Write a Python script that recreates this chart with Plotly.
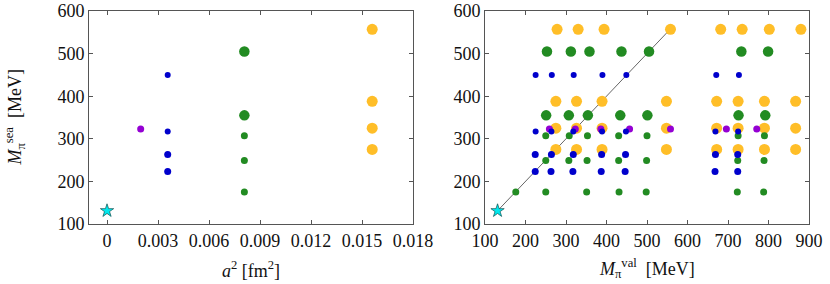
import plotly.graph_objects as go

# ---------------- data ----------------
# left panel: a^2 [fm^2] vs M_pi^sea [MeV]
a2_purple = 0.00198
sea_purple = [323]
a2_blue = 0.00357
sea_blue = [450, 317, 263, 223]
a2_green = 0.00808
sea_green_big = [505, 355]
sea_green_small = [307, 249, 175]
a2_orange = 0.0156
sea_orange = [557, 388, 325, 275]
star_a2 = [0.0]
star_sea = [131]

# right panel: M_pi^val vs M_pi^sea, valence masses per sea row
blue_rows_sea = [450, 317, 263, 223]
blue_rows_val = [
    [225, 265, 319, 390, 449, 671, 727],
    [225, 264, 318, 389, 448, 669, 725],
    [224, 264, 318, 388, 447, 669, 724],
    [224, 263, 317, 387, 446, 668, 724],
]
green_big_sea = [505, 355]
green_big_val = [
    [253, 312, 358, 437, 505, 733, 799],
    [251, 307, 354, 434, 501, 726, 792],
]
green_small_sea = [307, 249, 175]
green_small_val = [
    [250, 308, 353, 430, 500, 725, 790],
    [250, 307, 352, 430, 499, 724, 789],
    [176, 250, 351, 431, 498, 723, 788],
]
orange_sea = [557, 388, 325, 275]
orange_val = [
    [278, 330, 394, 558, 682, 735, 802, 880],
    [275, 326, 389, 548, 672, 725, 790, 867],
    [275, 326, 389, 548, 672, 725, 790, 867],
    [275, 326, 389, 548, 672, 725, 790, 867],
]
purple_sea = [323]
purple_val = [[259, 323, 386, 457, 558, 696, 771]]
star_val = [131]
diag_val = [131, 557]
diag_sea = [131, 557]

left_xticks = [0, 0.003, 0.006, 0.009, 0.012, 0.015, 0.018]
left_xticktext = ["0", "0.003", "0.006", "0.009", "0.012", "0.015", "0.018"]
right_xticks = [100, 200, 300, 400, 500, 600, 700, 800, 900]
yticks = [100, 200, 300, 400, 500, 600]

# ---------------- style ----------------
ORANGE = "#ffbe28"
GREEN = "#228b22"
BLUE = "#0000cc"
PURPLE = "#9400d3"
CYAN = "#00e8ee"
FONT = "Liberation Serif, Times New Roman, serif"

def flatten(rows_sea, rows_val):
    xs, ys = [], []
    for s, vals in zip(rows_sea, rows_val):
        for v in vals:
            xs.append(v)
            ys.append(s)
    return xs, ys

def mk(x, y, color, size, xa, ya):
    return go.Scatter(x=x, y=y, mode="markers", xaxis=xa, yaxis=ya,
                      marker=dict(color=color, size=size, opacity=1, line=dict(width=0)),
                      showlegend=False, hoverinfo="skip")

fig = go.Figure()

# left panel
fig.add_trace(mk([a2_orange] * len(sea_orange), sea_orange, ORANGE, 11, "x", "y"))
fig.add_trace(mk([a2_green] * len(sea_green_big), sea_green_big, GREEN, 10.5, "x", "y"))
fig.add_trace(mk([a2_green] * len(sea_green_small), sea_green_small, GREEN, 7, "x", "y"))
fig.add_trace(mk([a2_purple] * len(sea_purple), sea_purple, PURPLE, 7, "x", "y"))
blue_sizes = [6, 6, 7, 7]
fig.add_trace(go.Scatter(x=[a2_blue] * len(sea_blue), y=sea_blue, mode="markers",
                         xaxis="x", yaxis="y",
                         marker=dict(color=BLUE, size=blue_sizes, opacity=1, line=dict(width=0)),
                         showlegend=False, hoverinfo="skip"))
fig.add_trace(go.Scatter(x=star_a2, y=star_sea, mode="markers", xaxis="x", yaxis="y",
                         marker=dict(symbol="star", color=CYAN, size=10,
                                     line=dict(color="#105050", width=0.7)),
                         showlegend=False, hoverinfo="skip"))

# right panel
fig.add_trace(go.Scatter(x=diag_val, y=diag_sea, mode="lines", xaxis="x2", yaxis="y2",
                         line=dict(color="#555555", width=0.9),
                         showlegend=False, hoverinfo="skip"))
ox, oy = flatten(orange_sea, orange_val)
fig.add_trace(mk(ox, oy, ORANGE, 11, "x2", "y2"))
gx, gy = flatten(green_big_sea, green_big_val)
fig.add_trace(mk(gx, gy, GREEN, 10.5, "x2", "y2"))
gx, gy = flatten(green_small_sea, green_small_val)
fig.add_trace(mk(gx, gy, GREEN, 7, "x2", "y2"))
px_, py_ = flatten(purple_sea, purple_val)
fig.add_trace(mk(px_, py_, PURPLE, 7, "x2", "y2"))
bx, by = [], []
bs = []
for s, vals, sz in zip(blue_rows_sea, blue_rows_val, blue_sizes):
    for v in vals:
        bx.append(v)
        by.append(s)
        bs.append(sz)
fig.add_trace(go.Scatter(x=bx, y=by, mode="markers", xaxis="x2", yaxis="y2",
                         marker=dict(color=BLUE, size=bs, opacity=1, line=dict(width=0)),
                         showlegend=False, hoverinfo="skip"))
fig.add_trace(go.Scatter(x=star_val, y=star_sea, mode="markers", xaxis="x2", yaxis="y2",
                         marker=dict(symbol="star", color=CYAN, size=10,
                                     line=dict(color="#105050", width=0.7)),
                         showlegend=False, hoverinfo="skip"))

W, H = 830, 284
axis_common = dict(showline=True, linecolor="#555555", linewidth=1, mirror="allticks",
                   ticks="inside", ticklen=4, tickcolor="#555555", tickwidth=1,
                   showgrid=False, zeroline=False, automargin=False,
                   tickfont=dict(family=FONT, size=18, color="#111111"))

fig.update_layout(
    width=W, height=H, autosize=False,
    margin=dict(l=0, r=0, t=11, b=60, pad=0),
    paper_bgcolor="white", plot_bgcolor="white",
    font=dict(family=FONT, size=18, color="#111111"),
    xaxis=dict(domain=[89 / W, 413 / W], range=[-0.00106, 0.018],
               tickvals=left_xticks, ticktext=left_xticktext, anchor="y", **axis_common),
    yaxis=dict(domain=[0, 1], range=[100, 600], tickvals=yticks, anchor="x", **axis_common),
    xaxis2=dict(domain=[485 / W, 809 / W], range=[100, 900], tickvals=right_xticks,
                anchor="y2", **axis_common),
    yaxis2=dict(domain=[0, 1], range=[100, 600], tickvals=yticks, anchor="x2", **axis_common),
    annotations=[
        dict(text="<i>a</i><sup>2</sup> [fm<sup>2</sup>]", xref="paper", yref="paper",
             x=251 / W, y=-0.15, xanchor="center", yanchor="top", showarrow=False,
             font=dict(family=FONT, size=18, color="#111111")),
        dict(text="<i>M</i><sub>π</sub><sup>val</sup>  [MeV]", xref="paper", yref="paper",
             x=647 / W, y=-0.14, xanchor="center", yanchor="top", showarrow=False,
             font=dict(family=FONT, size=18, color="#111111")),
        dict(text="<i>M</i><sub>π</sub><sup>sea</sup>  [MeV]", xref="paper", yref="paper",
             x=15 / W, y=0.5, xanchor="center", yanchor="middle", showarrow=False,
             textangle=-90, font=dict(family=FONT, size=18, color="#111111")),
    ],
)

fig.write_html("out.html", config={"displayModeBar": False},
               post_script="document.body.style.margin='0';document.body.style.overflow='hidden';")
